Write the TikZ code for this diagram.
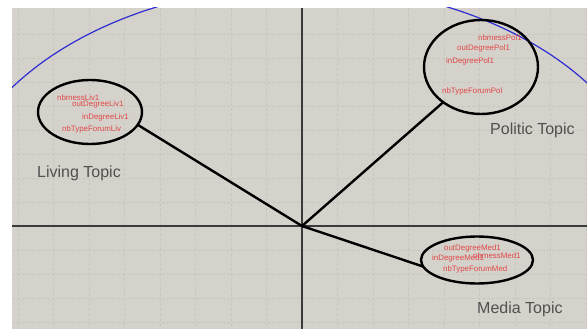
\documentclass[tikz,border=0pt]{standalone}
\usepackage{fontspec}
\setmainfont{Liberation Sans}
\usetikzlibrary{shapes.geometric}
\definecolor{paper}{HTML}{D5D2CB}
\definecolor{gridc}{HTML}{C9C6BF}
\definecolor{axisc}{HTML}{3A3A3A}
\definecolor{varred}{HTML}{E04848}
\definecolor{topicgrey}{HTML}{505050}
\definecolor{circblue}{HTML}{2E2ED2}
\tikzset{
  gridline/.style={draw=gridc, line width=0.7pt, dash pattern=on 3pt off 2pt},
  axisline/.style={draw=axisc, line width=1.3pt},
  group/.style={ellipse, draw=black, line width=2.4pt, inner sep=0pt, outer sep=0pt},
  link/.style={draw=black, line width=2.4pt},
  varlabel/.style={anchor=west, inner sep=0pt, text=varred, font=\fontsize{7.9}{8}\selectfont},
  topic/.style={anchor=base west, inner sep=0pt, text=topicgrey, font=\fontsize{16}{18}\selectfont},
}
\begin{document}
\begin{tikzpicture}[x=1pt, y=-1pt]
\useasboundingbox (0,0) rectangle (587,329);
\fill[white] (0,0) rectangle (587,329);
\fill[paper] (12,8) rectangle (587,329);
\begin{scope}
  \clip (12,8) rectangle (587,329);
  % dashed grid, 0.1 units apart
  \foreach \k in {-8,...,8} \draw[gridline] ({302+35.5*\k},8) -- ({302+35.5*\k},329);
  \foreach \k in {-8,...,4} \draw[gridline] (12,{226+24*\k}) -- (587,{226+24*\k});
  % unit correlation circle
  \draw[circblue, line width=1.2pt] (302,226) ellipse [x radius=355, y radius=240];
  % axes
  \draw[axisline] (12,226) -- (587,226);
  \draw[axisline] (302,8) -- (302,329);
\end{scope}

\coordinate (o) at (302,226);

% variable groups
\node[group, minimum width=104pt, minimum height=64pt] (liv) at (90,112) {};
\node[group, minimum width=114pt, minimum height=94pt] (pol) at (481,67) {};
\node[group, minimum width=112pt, minimum height=47pt] (med) at (477,260) {};

\draw[link] (o) -- (liv.-15);
\draw[link] (o) -- (pol.223);
\draw[link] (o) -- (med.187);

% variable names
\node[varlabel] (l1) at (57,98) {nbmessLiv1};
\node[varlabel] (l2) at (72,104) {outDegreeLiv1};
\node[varlabel] (l3) at (82,117) {inDegreeLiv1};
\node[varlabel] (l4) at (62,129) {nbTypeForumLiv};

\node[varlabel] (p1) at (478,38) {nbmessPol1};
\node[varlabel] (p2) at (457,48) {outDegreePol1};
\node[varlabel] (p3) at (446,61) {inDegreePol1};
\node[varlabel] (p4) at (442,91) {nbTypeForumPol};

\node[varlabel] (m1) at (444,248) {outDegreeMed1};
\node[varlabel] (m2) at (432,258) {inDegreeMed1};
\node[varlabel] (m3) at (473,256) {nbmessMed1};
\node[varlabel] (m4) at (443,269) {nbTypeForumMed};

% topic names
\node[topic] (tl) at (37,177) {Living Topic};
\node[topic] (tp) at (490,135) {Politic Topic};
\node[topic] (tm) at (477,313) {Media Topic};
\end{tikzpicture}
\end{document}
